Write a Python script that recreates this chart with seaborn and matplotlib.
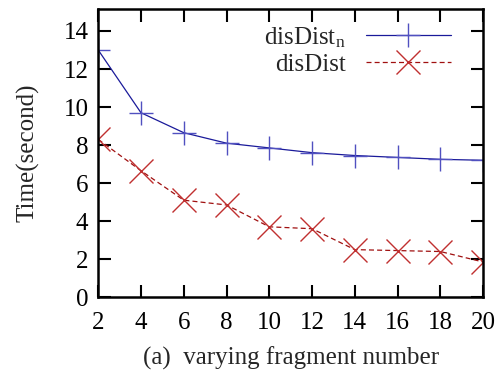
import matplotlib
matplotlib.use("Agg")
import matplotlib.pyplot as plt
import seaborn as sns
import pandas as pd

fragments = [2, 4, 6, 8, 10, 12, 14, 16, 18, 20]
disdist_n = [13.0, 9.7, 8.65, 8.1, 7.85, 7.6, 7.45, 7.35, 7.25, 7.2]
disdist = [8.3, 6.65, 5.1, 4.85, 3.7, 3.6, 2.5, 2.45, 2.4, 1.85]
series_names = ["disDist$_\\mathregular{n}$", "disDist"]
xticks = [2, 4, 6, 8, 10, 12, 14, 16, 18, 20]
yticks = [0, 2, 4, 6, 8, 10, 12, 14]

df = pd.DataFrame({
    "x": fragments * 2,
    "y": disdist_n + disdist,
    "s": [series_names[0]] * len(fragments) + [series_names[1]] * len(fragments),
})

sns.set_style("ticks")
plt.rcParams["font.family"] = ["Liberation Serif", "DejaVu Serif"]
plt.rcParams["mathtext.fontset"] = "custom"
plt.rcParams["mathtext.rm"] = "Liberation Serif"
plt.rcParams["mathtext.it"] = "Liberation Serif"

fig = plt.figure(figsize=(4.96, 3.8), dpi=100)
ax = fig.add_axes([0.198, 0.218, 0.776, 0.758])

palette = {series_names[0]: "#1a1a9a", series_names[1]: "#a01010"}
sns.lineplot(data=df, x="x", y="y", hue="s", style="s", palette=palette,
             dashes={series_names[0]: "", series_names[1]: (4, 2.5)},
             markers={series_names[0]: "+", series_names[1]: "x"},
             markersize=17, markeredgewidth=1.0, linewidth=0.9, ax=ax,
             legend=False)
for line, mc in zip(ax.lines, ["#5050c0", "#c03030"]):
    line.set_markeredgecolor(mc)

ax.set_xlim(2, 20)
ax.set_ylim(0, 15.15)
ax.set_xticks(xticks)
ax.set_yticks(yticks)
ax.tick_params(direction="in", length=9, width=1.5, top=True, right=True,
               labelsize=18, pad=7, colors="black")
ax.tick_params(axis="x", pad=11)
for sp in ax.spines.values():
    sp.set_linewidth(1.8)
    sp.set_color("black")
ax.set_xlabel("(a)  varying fragment number", fontsize=18, labelpad=9)
ax.set_ylabel("Time(second)", fontsize=18, labelpad=17)

from matplotlib.lines import Line2D
handles = [
    Line2D([], [], color="#1a1a9a", lw=0.9, marker="+", markersize=17,
           markeredgecolor="#5050c0", markeredgewidth=1.0),
    Line2D([], [], color="#a01010", lw=0.9, ls=(0, (4, 2.5)), marker="x",
           markersize=17, markeredgecolor="#c03030", markeredgewidth=1.0),
]
ax.legend(handles, series_names, loc="upper right", frameon=False,
          bbox_to_anchor=(1.0, 1.058),
          markerfirst=False, fontsize=18, handlelength=3.4,
          labelspacing=0.15, borderaxespad=0.9, handletextpad=0.8)

fig.savefig("out.png", dpi=100)
